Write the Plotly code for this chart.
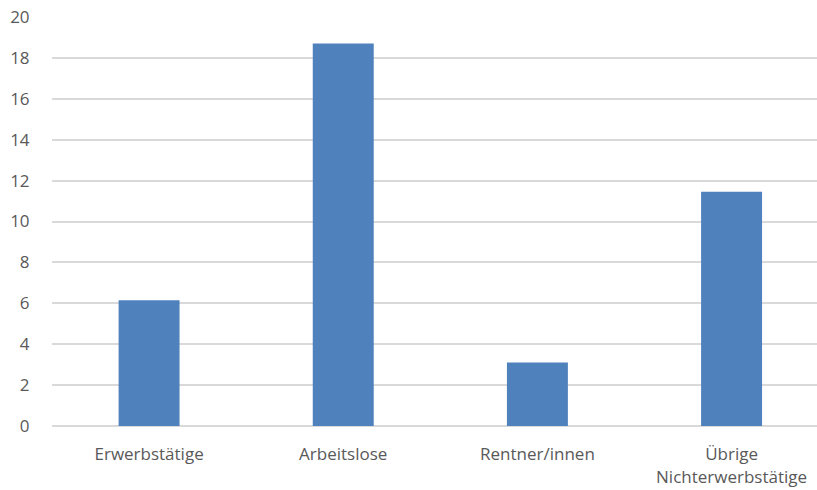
import plotly.graph_objects as go

categories = ["Erwerbstätige", "Arbeitslose", "Rentner/innen", "Übrige<br>Nichterwerbstätige"]
values = [6.15, 18.7, 3.1, 11.45]
y_ticks = [0, 2, 4, 6, 8, 10, 12, 14, 16, 18, 20]

fig = go.Figure(go.Bar(
    x=categories, y=values,
    marker=dict(color="#4f81bd", line=dict(width=0)),
    width=0.314,
))

fig.update_layout(
    width=817, height=490,
    margin=dict(l=52, r=0, t=17, b=64, pad=0),
    paper_bgcolor="white", plot_bgcolor="white",
    font=dict(family="Open Sans", size=15, color="#595959"),
    showlegend=False,
)
fig.update_xaxes(
    range=[-0.5, 3.44], showgrid=False, showline=False,
    ticks="outside", ticklen=13, tickcolor="rgba(0,0,0,0)",
    tickfont=dict(size=17, color="#595959"),
)
fig.update_yaxes(
    range=[0, 20], tickvals=y_ticks, showgrid=True, gridcolor="#d9d9d9", gridwidth=2,
    zeroline=True, zerolinecolor="#d9d9d9", zerolinewidth=2,
    ticks="outside", ticklen=18, tickcolor="rgba(0,0,0,0)",
    tickfont=dict(size=17, color="#595959"),
)

fig.write_html("out.html")
